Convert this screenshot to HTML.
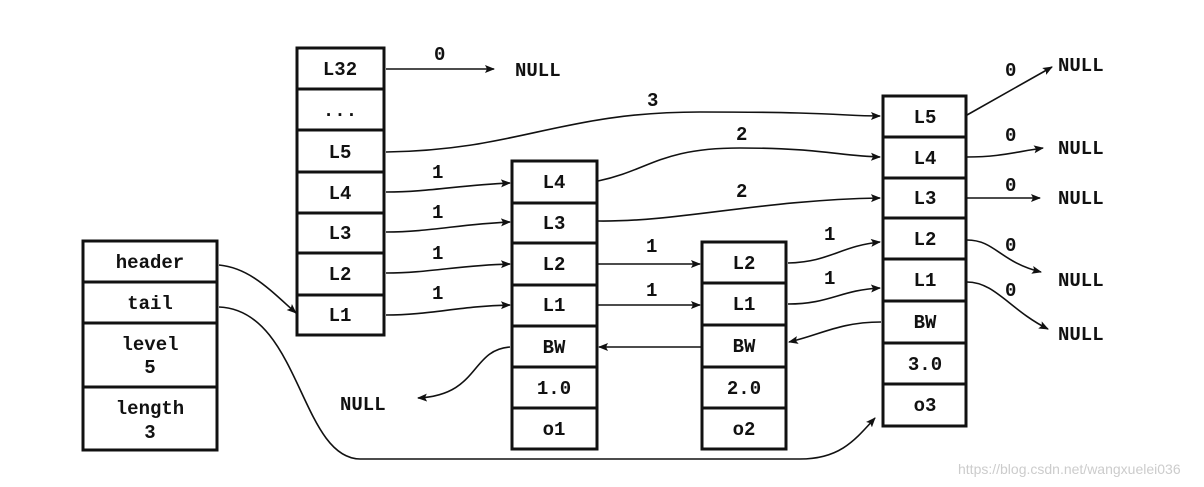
<!DOCTYPE html>
<html><head><meta charset="utf-8"><style>
html,body{margin:0;padding:0;background:#fff;}
svg{display:block}
text{font-family:"Liberation Mono",monospace;font-weight:bold;font-size:19px;fill:#111;}
.r{fill:#fff;stroke:#111;stroke-width:3}
.l{fill:none;stroke:#111;stroke-width:1.6}
</style></head><body>
<svg width="1204" height="487" viewBox="0 0 1204 487">
<defs><marker id="a" viewBox="0 0 10 10" refX="9" refY="5" markerWidth="10" markerHeight="10" markerUnits="userSpaceOnUse" orient="auto"><path d="M0,1 L10,5 L0,9 L2,5z" fill="#111"/></marker></defs>
<g text-anchor="middle">
<!-- list header -->
<rect class="r" x="83" y="241" width="134" height="209"/>
<path class="l" style="stroke-width:3" d="M83 282H217M83 323H217M83 387H217"/>
<text x="150" y="268">header</text><text x="150" y="309">tail</text>
<text x="150" y="350">level</text><text x="150" y="373">5</text>
<text x="150" y="414">length</text><text x="150" y="438">3</text>
<!-- header node -->
<rect class="r" x="297" y="48" width="87" height="287"/>
<path class="l" style="stroke-width:3" d="M297 89H384M297 130H384M297 172H384M297 213H384M297 253H384M297 295H384"/>
<text x="340" y="75">L32</text><text x="340" y="116">...</text><text x="340" y="158">L5</text><text x="340" y="199">L4</text><text x="340" y="239">L3</text><text x="340" y="280">L2</text><text x="340" y="321">L1</text>
<!-- node1 -->
<rect class="r" x="512" y="161" width="85" height="288"/>
<path class="l" style="stroke-width:3" d="M512 203H597M512 243H597M512 285H597M512 326H597M512 367H597M512 408H597"/>
<text x="554" y="188">L4</text><text x="554" y="229">L3</text><text x="554" y="270">L2</text><text x="554" y="311">L1</text><text x="554" y="353">BW</text><text x="554" y="394">1.0</text><text x="554" y="435">o1</text>
<!-- node2 -->
<rect class="r" x="702" y="242" width="84" height="207"/>
<path class="l" style="stroke-width:3" d="M702 283H786M702 325H786M702 367H786M702 408H786"/>
<text x="744" y="269">L2</text><text x="744" y="310">L1</text><text x="744" y="352">BW</text><text x="744" y="394">2.0</text><text x="744" y="435">o2</text>
<!-- node3 -->
<rect class="r" x="883" y="96" width="83" height="330"/>
<path class="l" style="stroke-width:3" d="M883 137H966M883 178H966M883 218H966M883 259H966M883 301H966M883 343H966M883 384H966"/>
<text x="925" y="123">L5</text><text x="925" y="164">L4</text><text x="925" y="204">L3</text><text x="925" y="245">L2</text><text x="925" y="286">L1</text><text x="925" y="328">BW</text><text x="925" y="370">3.0</text><text x="925" y="411">o3</text>
</g>
<!-- connectors -->
<g class="l" marker-end="url(#a)">
<path d="M386 69H494"/>
<path d="M386 152C520 150 560 112 700 112S840 116 880 116"/>
<path d="M598 181C650 170 660 148 740 148S840 156 880 157"/>
<path d="M598 221C680 222 760 200 880 198"/>
<path d="M386 192C430 192 460 185 510 183"/>
<path d="M386 232C430 232 460 224 510 222"/>
<path d="M386 273C430 273 460 265 510 264"/>
<path d="M386 315C430 315 460 306 510 305"/>
<path d="M598 264H700"/>
<path d="M598 305H700"/>
<path d="M788 263C830 262 840 246 880 242"/>
<path d="M788 304C830 304 840 290 880 288"/>
<path d="M701 347H599"/>
<path d="M881 322C840 322 820 335 789 342"/>
<path d="M510 347C470 350 480 395 418 398"/>
<path d="M219 265C250 268 270 290 296 313"/>
<path d="M219 307C300 310 300 458 360 459H800C840 459 855 440 875 418"/>
<path d="M967 115L1052 67"/>
<path d="M967 157C1000 157 1015 152 1043 148"/>
<path d="M967 198H1040"/>
<path d="M967 240C995 240 1000 262 1041 272"/>
<path d="M967 282C995 282 1010 310 1048 329"/>
</g>
<g>
<text x="434" y="60">0</text><text x="515" y="76">NULL</text>
<text x="647" y="106">3</text><text x="736" y="140">2</text><text x="736" y="197">2</text>
<text x="432" y="178">1</text><text x="432" y="218">1</text><text x="432" y="259">1</text><text x="432" y="299">1</text>
<text x="646" y="252">1</text><text x="646" y="296">1</text>
<text x="824" y="240">1</text><text x="824" y="284">1</text>
<text x="340" y="410">NULL</text>
<text x="1005" y="76">0</text><text x="1005" y="141">0</text><text x="1005" y="191">0</text><text x="1005" y="251">0</text><text x="1005" y="296">0</text>
<text x="1058" y="71">NULL</text><text x="1058" y="154">NULL</text><text x="1058" y="204">NULL</text><text x="1058" y="286">NULL</text><text x="1058" y="340">NULL</text>
<text x="958" y="474" style="font-family:'Liberation Sans',sans-serif;font-weight:normal;font-size:14px;fill:#ccc">https://blog.csdn.net/wangxuelei036</text>
</g>
</svg>
</body></html>
